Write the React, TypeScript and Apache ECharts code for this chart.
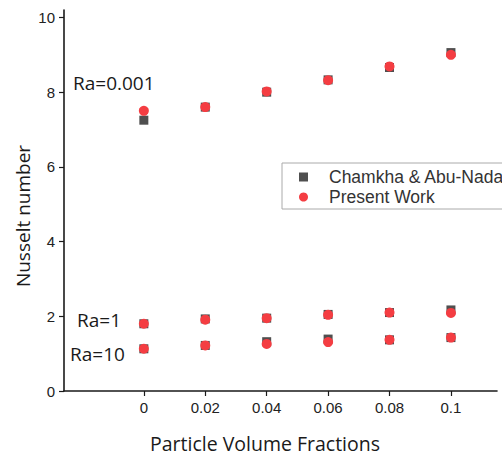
import React, { useEffect, useRef } from "react";
import * as echarts from "echarts";

// Particle volume fractions (x positions of every sample)
const fractions = [0, 0.02, 0.04, 0.06, 0.08, 0.1];
const xTickValues = [0, 0.02, 0.04, 0.06, 0.08, 0.1];
const yTickValues = [0, 2, 4, 6, 8, 10];

// Chamkha & Abu-Nada reference results
const chamkhaRa0001 = [7.25, 7.6, 8.0, 8.33, 8.66, 9.06];
const chamkhaRa1 = [1.8, 1.93, 1.95, 2.05, 2.1, 2.17];
const chamkhaRa10 = [1.13, 1.22, 1.32, 1.39, 1.37, 1.43];

// Present work results
const presentRa0001 = [7.5, 7.6, 8.02, 8.32, 8.69, 9.0];
const presentRa1 = [1.8, 1.91, 1.95, 2.04, 2.1, 2.09];
const presentRa10 = [1.13, 1.22, 1.26, 1.31, 1.37, 1.43];

const toPoints = (...sets: number[][]) =>
  sets.flatMap((vals) => vals.map((v, i) => [fractions[i], v]));

export default function App() {
  const ref = useRef<HTMLDivElement>(null);

  useEffect(() => {
    if (!ref.current) return;
    const chart = echarts.init(ref.current, undefined, { renderer: "svg" });
    const axisColor = "#1a1a1a";
    const tickFont = {
      fontFamily: "Liberation Sans, Arial, sans-serif",
      fontSize: 15,
      color: "#222",
    };
    const annotationFont = {
      fontFamily: "Open Sans, Noto Sans, sans-serif",
      fontSize: 19,
      fill: "#1a1a1a",
    };
    chart.setOption({
      animation: false,
      backgroundColor: "#fff",
      grid: { left: 64, right: 5, top: 10, bottom: 64 },
      xAxis: {
        type: "value",
        min: -0.026,
        max: 0.115,
        splitLine: { show: false },
        axisLine: {
          show: true,
          onZero: false,
          lineStyle: { color: axisColor, width: 1.6 },
        },
        axisTick: {
          show: true,
          length: 5,
          customValues: xTickValues,
          lineStyle: { color: axisColor, width: 1.2 },
        },
        axisLabel: {
          ...tickFont,
          margin: 9,
          customValues: xTickValues,
          formatter: (v: number) => String(+v.toFixed(2)),
        },
      },
      yAxis: {
        type: "value",
        min: 0,
        max: 10.2,
        splitLine: { show: false },
        axisLine: {
          show: true,
          onZero: false,
          lineStyle: { color: axisColor, width: 1.6 },
        },
        axisTick: {
          show: true,
          length: 5,
          customValues: yTickValues,
          lineStyle: { color: axisColor, width: 1.2 },
        },
        axisLabel: { ...tickFont, margin: 9, customValues: yTickValues },
      },
      legend: {
        orient: "vertical",
        left: 282,
        top: 163,
        padding: [4, 12, 2, 17],
        itemGap: 0,
        itemWidth: 9,
        itemHeight: 9,
        borderColor: "#aaa",
        borderWidth: 1,
        borderRadius: 0,
        textStyle: {
          fontFamily: "Liberation Sans, Arial, sans-serif",
          fontSize: 17.5,
          color: "#333",
          lineHeight: 20,
          padding: [0, 0, 0, 16],
        },
        data: [
          { name: "Chamkha & Abu-Nada", icon: "rect" },
          { name: "Present Work", icon: "circle" },
        ],
      },
      series: [
        {
          name: "Chamkha & Abu-Nada",
          type: "scatter",
          symbol: "rect",
          symbolSize: 9,
          itemStyle: { color: "#4f4f4f", opacity: 1 },
          data: toPoints(chamkhaRa0001, chamkhaRa1, chamkhaRa10),
          z: 2,
        },
        {
          name: "Present Work",
          type: "scatter",
          symbol: "circle",
          symbolSize: 10,
          itemStyle: { color: "#f43d42", opacity: 1 },
          data: toPoints(presentRa0001, presentRa1, presentRa10),
          z: 3,
        },
      ],
      graphic: [
        {
          type: "text",
          left: 73,
          top: 73,
          style: { text: "Ra=0.001", ...annotationFont },
        },
        {
          type: "text",
          left: 77,
          top: 310,
          style: { text: "Ra=1", ...annotationFont },
        },
        {
          type: "text",
          left: 70,
          top: 344,
          style: { text: "Ra=10", ...annotationFont },
        },
        {
          type: "text",
          x: 23,
          y: 216,
          rotation: Math.PI / 2,
          style: {
            text: "Nusselt number",
            fontFamily: "Open Sans, Noto Sans, sans-serif",
            fontSize: 19,
            fill: "#1a1a1a",
            align: "center",
            verticalAlign: "middle",
          },
        },
        {
          type: "text",
          x: 265,
          y: 443,
          style: {
            text: "Particle Volume Fractions",
            fontFamily: "Open Sans, Noto Sans, sans-serif",
            fontSize: 19.5,
            fill: "#1a1a1a",
            align: "center",
            verticalAlign: "middle",
          },
        },
      ],
    });
    return () => chart.dispose();
  }, []);

  return (
    <div
      ref={ref}
      style={{ position: "absolute", left: 0, top: 0, width: 502, height: 455 }}
    />
  );
}
